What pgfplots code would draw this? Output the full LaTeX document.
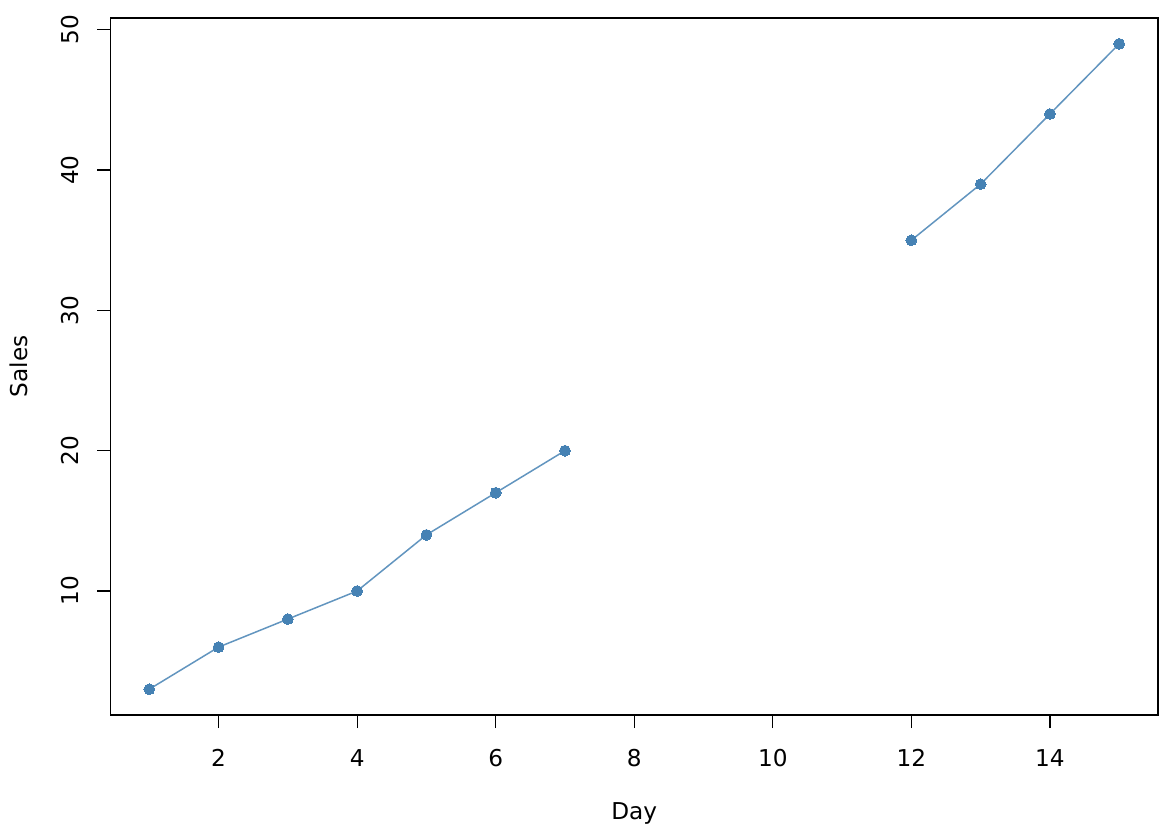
\documentclass[border=0pt]{standalone}
\usepackage{fontspec}
\setmainfont{DejaVu Sans}
\usepackage{pgfplots}
\pgfplotsset{compat=1.18}
\definecolor{steelblue}{RGB}{70,130,180}
\begin{document}
\fontsize{11.6pt}{13.5pt}\selectfont
\begin{tikzpicture}
\begin{axis}[
  name=ax,
  scale only axis,
  width=523.75pt, height=348.5pt,
  xmin=0.44, xmax=15.56, ymin=1.16, ymax=50.84,
  xtick={2,4,6,8,10,12,14},
  ytick={10,20,30,40,50},
  axis line style={line width=0.6pt},
  tick style={line width=0.6pt, black},
  tick align=outside,
  major tick length=6.5pt,
  xtick pos=bottom, ytick pos=left,
  /pgf/number format/assume math mode=true,
  xticklabel style={anchor=center},
  yticklabel style={anchor=center, rotate=90},
  xticklabel shift=15pt,
  yticklabel shift=13.5pt,
  every axis x label/.style={at={(axis description cs:0.5,0)}, anchor=center, yshift=-49pt},
  every axis y label/.style={at={(axis description cs:0,0.5)}, xshift=-46pt, anchor=center, rotate=90},
  xlabel={Day}, ylabel={Sales},
  unbounded coords=jump,
]
\addplot[color=steelblue!85, line width=0.75pt, mark=*, mark size=2.7pt, mark options={fill=steelblue, draw=steelblue, line width=0pt}] coordinates {
(1,3) (2,6) (3,8) (4,10) (5,14) (6,17) (7,20) (8,nan) (9,nan) (10,nan) (11,nan) (12,35) (13,39) (14,44) (15,49)
};
\end{axis}
\path ([shift={(-55.25pt,-59pt)}]ax.south west) rectangle ([shift={(7pt,9pt)}]ax.north east);
\end{tikzpicture}
\end{document}
